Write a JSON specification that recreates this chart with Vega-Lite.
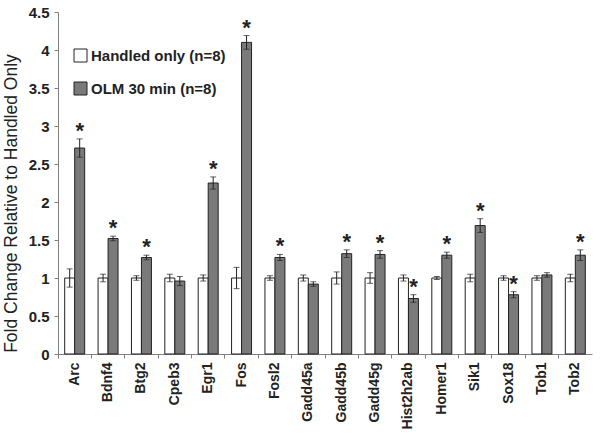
{
  "$schema": "https://vega.github.io/schema/vega-lite/v6.json",
  "width": 534,
  "height": 342,
  "autosize": {"type": "none"},
  "padding": {"left": 58, "top": 12, "right": 8, "bottom": 82},
  "background": "white",
  "config": {
    "view": {"stroke": null},
    "font": "Liberation Sans",
    "axis": {"domainColor": "#808080", "tickColor": "#808080", "grid": false, "labelColor": "#222", "titleColor": "#222"}
  },
  "data": {
    "values": [
      {"gene": "Arc", "group": "Handled only (n=8)", "mean": 1.0, "err": 0.12, "sig": false},
      {"gene": "Arc", "group": "OLM 30 min (n=8)", "mean": 2.71, "err": 0.12, "sig": true},
      {"gene": "Bdnf4", "group": "Handled only (n=8)", "mean": 1.0, "err": 0.05, "sig": false},
      {"gene": "Bdnf4", "group": "OLM 30 min (n=8)", "mean": 1.52, "err": 0.03, "sig": true},
      {"gene": "Btg2", "group": "Handled only (n=8)", "mean": 1.0, "err": 0.03, "sig": false},
      {"gene": "Btg2", "group": "OLM 30 min (n=8)", "mean": 1.27, "err": 0.03, "sig": true},
      {"gene": "Cpeb3", "group": "Handled only (n=8)", "mean": 1.0, "err": 0.05, "sig": false},
      {"gene": "Cpeb3", "group": "OLM 30 min (n=8)", "mean": 0.96, "err": 0.06, "sig": false},
      {"gene": "Egr1", "group": "Handled only (n=8)", "mean": 1.0, "err": 0.04, "sig": false},
      {"gene": "Egr1", "group": "OLM 30 min (n=8)", "mean": 2.25, "err": 0.08, "sig": true},
      {"gene": "Fos", "group": "Handled only (n=8)", "mean": 1.0, "err": 0.14, "sig": false},
      {"gene": "Fos", "group": "OLM 30 min (n=8)", "mean": 4.1, "err": 0.09, "sig": true},
      {"gene": "Fosl2", "group": "Handled only (n=8)", "mean": 1.0, "err": 0.03, "sig": false},
      {"gene": "Fosl2", "group": "OLM 30 min (n=8)", "mean": 1.27, "err": 0.04, "sig": true},
      {"gene": "Gadd45a", "group": "Handled only (n=8)", "mean": 1.0, "err": 0.04, "sig": false},
      {"gene": "Gadd45a", "group": "OLM 30 min (n=8)", "mean": 0.92, "err": 0.03, "sig": false},
      {"gene": "Gadd45b", "group": "Handled only (n=8)", "mean": 1.0, "err": 0.08, "sig": false},
      {"gene": "Gadd45b", "group": "OLM 30 min (n=8)", "mean": 1.32, "err": 0.05, "sig": true},
      {"gene": "Gadd45g", "group": "Handled only (n=8)", "mean": 1.0, "err": 0.07, "sig": false},
      {"gene": "Gadd45g", "group": "OLM 30 min (n=8)", "mean": 1.31, "err": 0.05, "sig": true},
      {"gene": "Hist2h2ab", "group": "Handled only (n=8)", "mean": 1.0, "err": 0.04, "sig": false},
      {"gene": "Hist2h2ab", "group": "OLM 30 min (n=8)", "mean": 0.73, "err": 0.05, "sig": true},
      {"gene": "Homer1", "group": "Handled only (n=8)", "mean": 1.0, "err": 0.02, "sig": false},
      {"gene": "Homer1", "group": "OLM 30 min (n=8)", "mean": 1.3, "err": 0.04, "sig": true},
      {"gene": "Sik1", "group": "Handled only (n=8)", "mean": 1.0, "err": 0.05, "sig": false},
      {"gene": "Sik1", "group": "OLM 30 min (n=8)", "mean": 1.69, "err": 0.09, "sig": true},
      {"gene": "Sox18", "group": "Handled only (n=8)", "mean": 1.0, "err": 0.03, "sig": false},
      {"gene": "Sox18", "group": "OLM 30 min (n=8)", "mean": 0.78, "err": 0.04, "sig": true},
      {"gene": "Tob1", "group": "Handled only (n=8)", "mean": 1.0, "err": 0.03, "sig": false},
      {"gene": "Tob1", "group": "OLM 30 min (n=8)", "mean": 1.04, "err": 0.03, "sig": false},
      {"gene": "Tob2", "group": "Handled only (n=8)", "mean": 1.0, "err": 0.05, "sig": false},
      {"gene": "Tob2", "group": "OLM 30 min (n=8)", "mean": 1.3, "err": 0.07, "sig": true}
    ]
  },
  "transform": [
    {"calculate": "datum.mean - datum.err", "as": "lo"},
    {"calculate": "datum.mean + datum.err", "as": "hi"}
  ],
  "encoding": {
    "x": {
      "field": "gene", "type": "nominal", "sort": null,
      "scale": {"paddingInner": 0, "paddingOuter": 0},
      "axis": {
        "title": null, "labelAngle": -90, "labelAlign": "right", "labelBaseline": "middle",
        "labelFontSize": 14, "labelFontWeight": "bold", "bandPosition": 0,
        "tickSize": 4, "labelPadding": 4
      }
    },
    "xOffset": {
      "field": "group", "type": "nominal",
      "scale": {"paddingInner": 0, "paddingOuter": 0.67}
    }
  },
  "layer": [
    {
      "mark": {"type": "bar", "stroke": "#222", "strokeWidth": 1},
      "encoding": {
        "y": {
          "field": "mean", "type": "quantitative",
          "scale": {"domain": [0, 4.5], "nice": false},
          "axis": {
            "title": "Fold Change Relative to Handled Only", "titleFontSize": 17.5, "titleFontWeight": "normal",
            "titleX": -38, "titleY": 191, "titleAngle": -90, "titleAlign": "center", "titleBaseline": "bottom",
            "values": [0, 0.5, 1, 1.5, 2, 2.5, 3, 3.5, 4, 4.5], "format": "~f", "labelOverlap": false,
            "labelFontSize": 15, "labelFontWeight": "bold", "tickSize": 4, "labelPadding": 5
          }
        },
        "fill": {
          "field": "group", "type": "nominal",
          "scale": {"range": ["#ffffff", "#7a7a7a"]},
          "legend": {
            "title": null, "orient": "none", "legendX": 15, "legendY": 36,
            "labelFontSize": 15, "labelFontWeight": "bold", "labelColor": "#222",
            "symbolType": "square", "symbolSize": 169, "symbolStrokeColor": "#222", "symbolStrokeWidth": 1,
            "rowPadding": 16, "labelOffset": 3
          }
        }
      }
    },
    {
      "mark": {"type": "rule", "color": "#222", "strokeWidth": 1},
      "encoding": {
        "y": {
          "field": "lo", "type": "quantitative",
          "axis": {
            "title": "Fold Change Relative to Handled Only", "titleFontSize": 17.5, "titleFontWeight": "normal",
            "titleX": -38, "titleY": 191, "titleAngle": -90, "titleAlign": "center", "titleBaseline": "bottom",
            "values": [0, 0.5, 1, 1.5, 2, 2.5, 3, 3.5, 4, 4.5], "format": "~f", "labelOverlap": false,
            "labelFontSize": 15, "labelFontWeight": "bold", "tickSize": 4, "labelPadding": 5
          }
        },
        "y2": {"field": "hi"}
      }
    },
    {
      "mark": {"type": "tick", "color": "#222", "size": 6, "thickness": 1, "orient": "horizontal"},
      "encoding": {
        "y": {
          "field": "lo", "type": "quantitative",
          "axis": {
            "title": "Fold Change Relative to Handled Only", "titleFontSize": 17.5, "titleFontWeight": "normal",
            "titleX": -38, "titleY": 191, "titleAngle": -90, "titleAlign": "center", "titleBaseline": "bottom",
            "values": [0, 0.5, 1, 1.5, 2, 2.5, 3, 3.5, 4, 4.5], "format": "~f", "labelOverlap": false,
            "labelFontSize": 15, "labelFontWeight": "bold", "tickSize": 4, "labelPadding": 5
          }
        }
      }
    },
    {
      "mark": {"type": "tick", "color": "#222", "size": 6, "thickness": 1, "orient": "horizontal"},
      "encoding": {
        "y": {
          "field": "hi", "type": "quantitative",
          "axis": {
            "title": "Fold Change Relative to Handled Only", "titleFontSize": 17.5, "titleFontWeight": "normal",
            "titleX": -38, "titleY": 191, "titleAngle": -90, "titleAlign": "center", "titleBaseline": "bottom",
            "values": [0, 0.5, 1, 1.5, 2, 2.5, 3, 3.5, 4, 4.5], "format": "~f", "labelOverlap": false,
            "labelFontSize": 15, "labelFontWeight": "bold", "tickSize": 4, "labelPadding": 5
          }
        }
      }
    },
    {
      "transform": [{"filter": "datum.sig"}],
      "mark": {"type": "text", "text": "*", "fontSize": 22, "fontWeight": "bold", "color": "#222", "baseline": "alphabetic", "dy": -1},
      "encoding": {
        "y": {
          "field": "hi", "type": "quantitative",
          "axis": {
            "title": "Fold Change Relative to Handled Only", "titleFontSize": 17.5, "titleFontWeight": "normal",
            "titleX": -38, "titleY": 191, "titleAngle": -90, "titleAlign": "center", "titleBaseline": "bottom",
            "values": [0, 0.5, 1, 1.5, 2, 2.5, 3, 3.5, 4, 4.5], "format": "~f", "labelOverlap": false,
            "labelFontSize": 15, "labelFontWeight": "bold", "tickSize": 4, "labelPadding": 5
          }
        }
      }
    }
  ]
}
